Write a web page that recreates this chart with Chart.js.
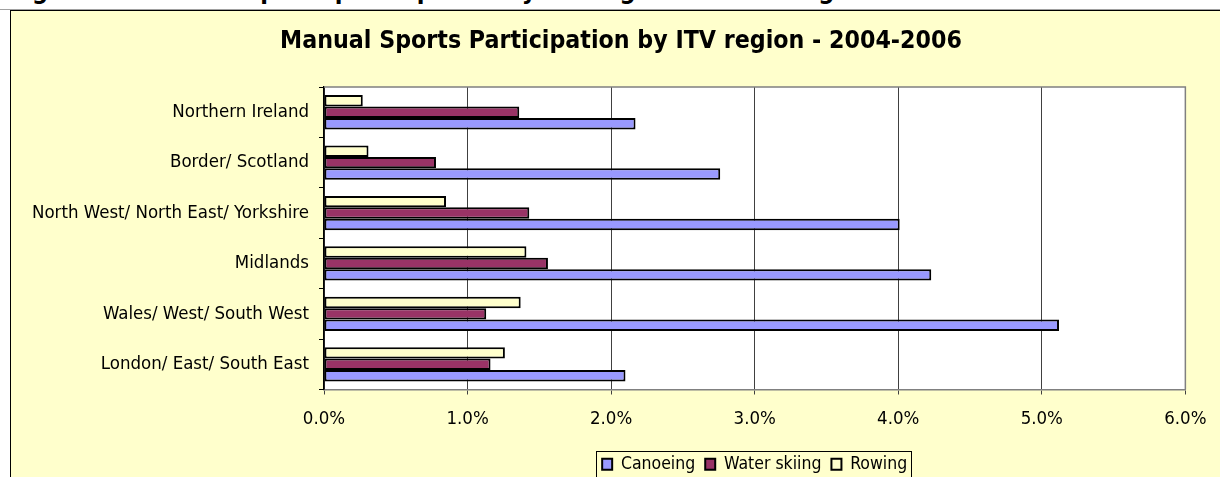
<!DOCTYPE html>
<html>
<head>
<meta charset="utf-8">
<title>Manual Sports Participation by ITV region - 2004-2006</title>
<script src="https://cdn.jsdelivr.net/npm/chart.js@4.4.1/dist/chart.umd.min.js"></script>
<style>
    html, body { margin: 0; padding: 0; background: #fff; overflow: hidden; }
    #caption {
        position: absolute; left: 9px; top: -24px; white-space: nowrap;
        font: bold 25px "DejaVu Sans Condensed", "Liberation Sans", sans-serif; color: #000;
    }
    #rule { position: absolute; left: 0; top: 9px; width: 1220px; height: 1px; background: #a0a0a0; }
    #frame {
        position: absolute; left: 10px; top: 10px; width: 1230px; height: 480px;
        background: #ffffcc; border-left: 1px solid #000; border-top: 1px solid #000;
    }
    #wrap { position: absolute; left: 0; top: 0; width: 1209px; height: 472px; }
</style>
</head>
<body>
<div id="caption">Figure 16: Manual sports participation by ITV region and social grade</div>
<div id="rule"></div>
<div id="frame"><div id="wrap"><canvas id="sportsChart"></canvas></div></div>

<script>
// ═══════════════════════════════════════════════════════
// Manual sports participation by ITV region, 2004-2006
// Values are percentages.
// ═══════════════════════════════════════════════════════

const regions = [
    'Northern Ireland',
    'Border/ Scotland',
    'North West/ North East/ Yorkshire',
    'Midlands',
    'Wales/ West/ South West',
    'London/ East/ South East'
];

const canoeing    = [2.17, 2.76, 4.01, 4.23, 5.12, 2.10];
const waterSkiing = [1.36, 0.78, 1.43, 1.56, 1.13, 1.16];
const rowing      = [0.27, 0.31, 0.85, 1.41, 1.37, 1.26];

const xTicks = [0, 1, 2, 3, 4, 5, 6];

const FONT = '"DejaVu Sans Condensed", "Liberation Sans", sans-serif';

// ── Plot background, plot frame and legend box ──────────────────────

const excelLook = {
    id: 'excelLook',
    afterLayout(chart) {
        // Excel centres the title on the whole chart object (wider than the
        // window) and the legend under the plot area
        const t = chart.titleBlock, lg = chart.legend, a = chart.chartArea;
        if (t) { t.left = 0; t.right = 1220; t.width = 1220; }
        if (lg) { lg.left = a.left; lg.right = a.right; lg.width = a.right - a.left; }
    },
    beforeDraw(chart) {
        const { ctx, chartArea: a } = chart;
        ctx.save();
        ctx.fillStyle = '#ffffff';
        ctx.fillRect(a.left, a.top, a.right - a.left, a.bottom - a.top);
        ctx.restore();
    },
    afterDraw(chart) {
        const { ctx, chartArea: a } = chart;
        ctx.save();
        ctx.strokeStyle = '#808080';
        ctx.lineWidth = 1.5;
        ctx.beginPath();
        ctx.moveTo(a.left, a.top);
        ctx.lineTo(a.right, a.top);
        ctx.lineTo(a.right, a.bottom);
        ctx.stroke();

        // legend frame round the items
        const boxes = chart.legend.legendHitBoxes;
        if (boxes && boxes.length) {
            const l = Math.min(...boxes.map(b => b.left));
            const r = Math.max(...boxes.map(b => b.left + b.width));
            const t = Math.min(...boxes.map(b => b.top));
            const bt = Math.max(...boxes.map(b => b.top + b.height));
            ctx.strokeStyle = '#000';
            ctx.lineWidth = 1;
            ctx.strokeRect(Math.round(l - 6) + 0.5, Math.round(t - 5) + 0.5,
                           Math.round(r - l + 10), Math.round(bt - t + 10));
        }
        ctx.restore();
    }
};

// ── Chart ───────────────────────────────────────────────────────────

const ctx = document.getElementById('sportsChart');

new Chart(ctx, {
    type: 'bar',
    data: {
        labels: regions,
        // first dataset is drawn on top inside each group
        datasets: [
            { label: 'Rowing',       data: rowing,      backgroundColor: '#ffffcc' },
            { label: 'Water skiing', data: waterSkiing, backgroundColor: '#993366' },
            { label: 'Canoeing',     data: canoeing,    backgroundColor: '#9999ff' }
        ].map(d => ({ ...d, borderColor: '#000', borderWidth: 2, borderSkipped: false,
                      categoryPercentage: 0.68, barPercentage: 1.0 }))
    },
    options: {
        indexAxis: 'y',
        responsive: true,
        maintainAspectRatio: false,
        animation: false,
        layout: { padding: { left: 0, right: 28, top: 0, bottom: 0 } },
        plugins: {
            title: {
                display: true,
                text: 'Manual Sports Participation by ITV region - 2004-2006',
                color: '#000',
                font: { family: FONT, size: 24.7, weight: 'bold' },
                padding: { top: 15.7, bottom: 30.7 }
            },
            legend: {
                position: 'bottom',
                reverse: true,
                labels: {
                    color: '#000',
                    font: { family: FONT, size: 17.5 },
                    boxWidth: 10,
                    boxHeight: 11,
                    padding: 10
                }
            },
            tooltip: { enabled: false }
        },
        scales: {
            x: {
                min: 0,
                max: 6,
                afterBuildTicks: s => { s.ticks = xTicks.map(v => ({ value: v })); },
                afterFit: s => { s.height = 56; },
                ticks: {
                    color: '#000',
                    font: { family: FONT, size: 18.5 },
                    padding: 13.5,
                    maxRotation: 0,
                    callback: v => v.toFixed(1) + '%'
                },
                grid: { color: '#404040', lineWidth: 1, tickLength: 5 },
                border: { color: '#808080', width: 1.5 }
            },
            y: {
                afterFit: s => { s.width = 313; },
                ticks: {
                    color: '#000',
                    font: { family: FONT, size: 18.5 },
                    padding: 10
                },
                grid: { drawOnChartArea: false, offset: true, tickLength: 5, color: '#000' },
                border: { color: '#000', width: 1.5 }
            }
        }
    },
    plugins: [excelLook]
});
</script>
</body>
</html>
